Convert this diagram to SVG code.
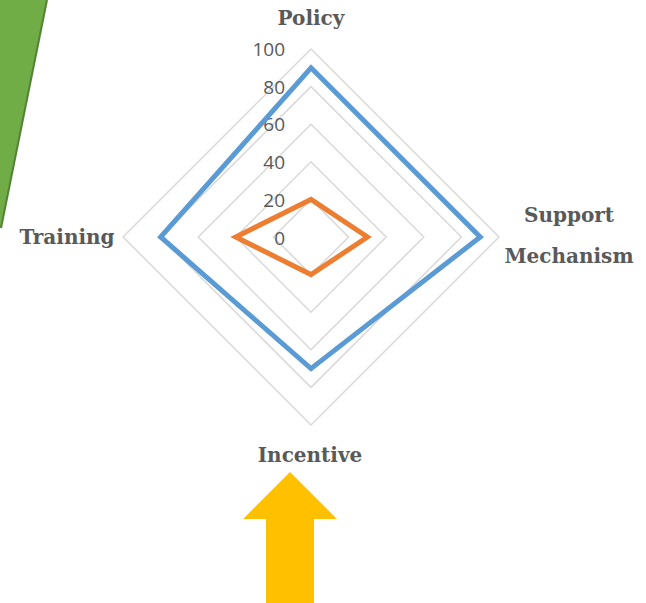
<svg xmlns="http://www.w3.org/2000/svg" width="646" height="603" viewBox="0 0 646 603">
<style>
.grid{fill:none;stroke:#D9D9D9;stroke-width:1.5}
.tick{font-family:"Open Sans","Liberation Sans",sans-serif;font-size:19px;fill:#595959;text-anchor:end}
.lbl{font-family:"DejaVu Serif","Liberation Serif",serif;font-weight:bold;font-size:20px;fill:#595959;text-anchor:middle}
.ser{fill:none;stroke-width:5;stroke-linejoin:miter}
</style>
<rect width="646" height="603" fill="#FFFFFF"/>
<g id="green-shape">
<polygon points="0,0 47,0 1,228 0,228" fill="#70AD47"/>
<line x1="47" y1="0" x2="1" y2="228" stroke="#548235" stroke-width="2"/>
</g>
<g id="grid">
<polygon class="grid" points="311,49 499,237 311,425 123,237"/>
<polygon class="grid" points="311,86.6 461.4,237 311,387.4 160.6,237"/>
<polygon class="grid" points="311,124.2 423.8,237 311,349.8 198.2,237"/>
<polygon class="grid" points="311,161.8 386.2,237 311,312.2 235.8,237"/>
<polygon class="grid" points="311,199.4 348.6,237 311,274.6 273.4,237"/>
</g>
<g id="ticks">
<text class="tick" x="285" y="56">100</text>
<text class="tick" x="285" y="94">80</text>
<text class="tick" x="285" y="131">60</text>
<text class="tick" x="285" y="169">40</text>
<text class="tick" x="285" y="207">20</text>
<text class="tick" x="285" y="245">0</text>
</g>
<g id="connectors">
<polygon id="series-blue" class="ser" stroke="#5B9BD5" points="311,67.8 480.2,237 311,368.6 160.6,237"/>
<polygon id="series-orange" class="ser" stroke="#ED7D31" points="311,199.4 367.4,237 311,274.6 235.8,237"/>
</g>
<g id="node-policy"><text class="lbl" x="311" y="25">Policy</text></g>
<g id="node-support"><text class="lbl" x="569" y="222">Support</text><text class="lbl" x="569" y="263">Mechanism</text></g>
<g id="node-incentive"><text class="lbl" x="310" y="462">Incentive</text></g>
<g id="node-training"><text class="lbl" x="67" y="244">Training</text></g>
<g id="arrow">
<polygon points="290,472 337,519 314,519 314,603 266,603 266,519 243,519" fill="#FFC000"/>
</g>
</svg>
